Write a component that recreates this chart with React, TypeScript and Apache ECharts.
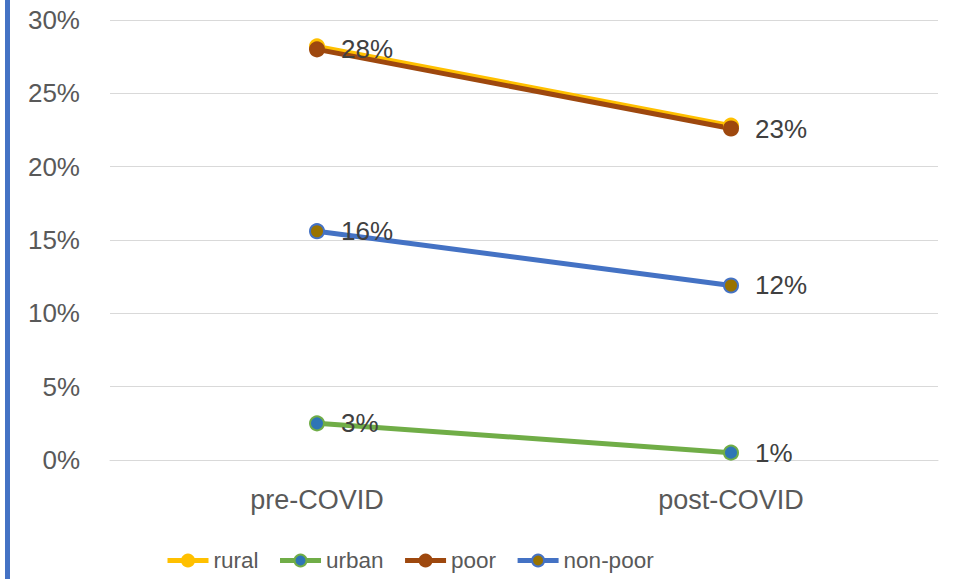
import React, { useEffect, useRef } from "react";
import * as echarts from "echarts";

const categories = ["pre-COVID", "post-COVID"];
const rural = [28.2, 22.8];
const urban = [2.5, 0.5];
const poor = [28.0, 22.6];
const nonPoor = [15.6, 11.9];
const yTicks = [0, 5, 10, 15, 20, 25, 30];

const FONT = "Liberation Sans";

export default function App() {
  const ref = useRef<HTMLDivElement>(null);
  useEffect(() => {
    const chart = echarts.init(ref.current!, null, { renderer: "svg" });
    const labelCfg = {
      show: true,
      position: "right",
      distance: 16,
      formatter: (p: any) => Math.round(p.value) + "%",
      color: "#404040",
      fontSize: 26,
      fontFamily: FONT,
    };
    const mk = (name: string, data: number[], line: string, fill: string, label: boolean) => ({
      name,
      type: "line",
      data,
      symbol: "circle",
      symbolSize: 14,
      lineStyle: { color: line, width: 5 },
      itemStyle: { color: fill, borderColor: line, borderWidth: 2 },
      label: label ? labelCfg : { show: false },
      z: 2,
    });
    chart.setOption({
      animation: false,
      backgroundColor: "#ffffff",
      textStyle: { fontFamily: FONT },
      grid: { left: 110, right: 15, top: 20, bottom: 119, containLabel: false },
      graphic: [
        { type: "rect", shape: { x: 5, y: 0, width: 5, height: 579 }, style: { fill: "#4472C4" } },
      ],
      legend: {
        left: 165,
        top: 549,
        padding: 0,
        itemWidth: 41,
        itemHeight: 15,
        itemGap: 19,
        lineStyle: { width: 5 },
        textStyle: { color: "#595959", fontSize: 22.5, fontFamily: FONT },
        data: ["rural", "urban", "poor", "non-poor"],
      },
      xAxis: {
        type: "category",
        data: categories,
        boundaryGap: true,
        axisLine: { show: true, lineStyle: { color: "#D9D9D9", width: 1 } },
        axisTick: { show: false },
        axisLabel: { color: "#595959", fontSize: 27, fontFamily: FONT, margin: 26 },
      },
      yAxis: {
        type: "value",
        min: yTicks[0],
        max: yTicks[yTicks.length - 1],
        interval: 5,
        axisLine: { show: false },
        axisTick: { show: false },
        splitLine: { lineStyle: { color: "#D9D9D9", width: 1 } },
        axisLabel: {
          color: "#595959",
          fontSize: 26,
          fontFamily: FONT,
          margin: 30,
          formatter: (v: number) => v + "%",
        },
      },
      series: [
        mk("rural", rural, "#FFC000", "#FFC000", false),
        mk("urban", urban, "#70AD47", "#2E75B6", true),
        mk("poor", poor, "#9E480E", "#9E480E", true),
        mk("non-poor", nonPoor, "#4472C4", "#997300", true),
      ],
    });
    return () => chart.dispose();
  }, []);
  return (
    <div
      ref={ref}
      style={{ position: "fixed", left: 0, top: 0, width: 953, height: 579 }}
    />
  );
}
